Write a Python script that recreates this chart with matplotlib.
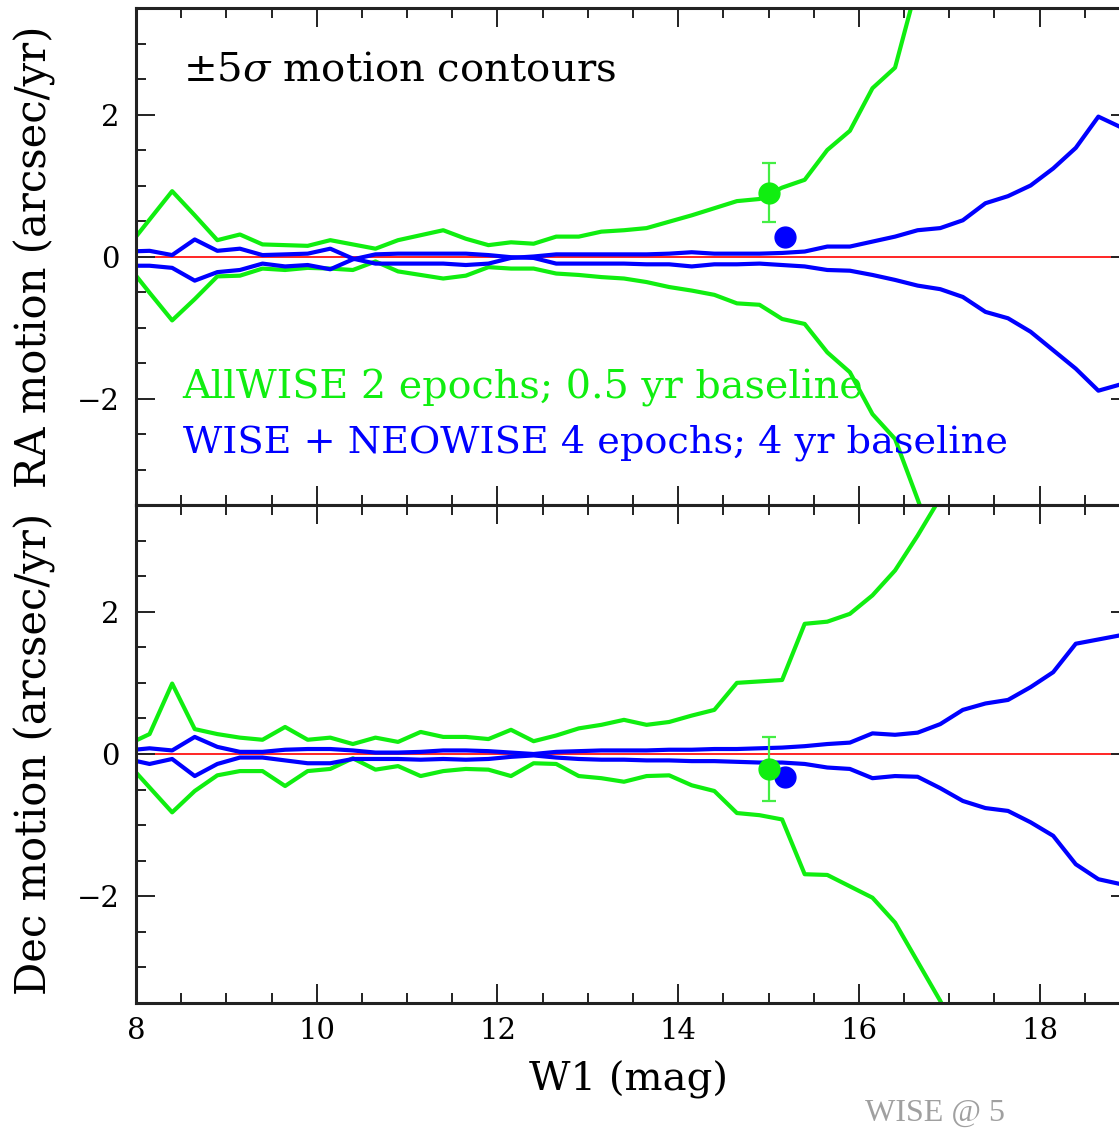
import numpy as np
import matplotlib
matplotlib.use("Agg")
import matplotlib.pyplot as plt
from matplotlib.ticker import MultipleLocator

# W1 bin centres (mag)
w1 = [7.9, 8.15, 8.4, 8.65, 8.9, 9.15, 9.4, 9.65, 9.9, 10.15,
      10.4, 10.65, 10.9, 11.15, 11.4, 11.65, 11.9, 12.15, 12.4, 12.65,
      12.9, 13.15, 13.4, 13.65, 13.9, 14.15, 14.4, 14.65, 14.9, 15.15,
      15.4, 15.65, 15.9, 16.15, 16.4, 16.65, 16.9, 17.15, 17.4, 17.65,
      17.9, 18.15, 18.4, 18.65, 18.9]

# RA motion, +/-5 sigma contours (arcsec/yr)
ra_allwise_hi = [0.12, 0.52, 0.92, 0.58, 0.23, 0.31, 0.17, 0.16, 0.15, 0.23,
                 0.17, 0.11, 0.23, 0.30, 0.37, 0.25, 0.16, 0.20, 0.18, 0.28,
                 0.28, 0.35, 0.37, 0.40, 0.49, 0.58, 0.68, 0.78, 0.81, 0.97,
                 1.08, 1.50, 1.77, 2.37, 2.66, 3.85, 4.60]
ra_allwise_lo = [-0.11, -0.51, -0.90, -0.60, -0.28, -0.27, -0.17, -0.19, -0.16, -0.17,
                 -0.19, -0.07, -0.21, -0.26, -0.31, -0.27, -0.15, -0.17, -0.17, -0.24,
                 -0.26, -0.29, -0.31, -0.36, -0.43, -0.48, -0.54, -0.66, -0.68, -0.88,
                 -0.95, -1.35, -1.63, -2.22, -2.57, -3.42, -4.30]
ra_neowise_a = [0.07, 0.08, 0.02, 0.24, 0.08, 0.11, 0.02, 0.03, 0.04, 0.11,
                -0.03, -0.10, -0.10, -0.10, -0.10, -0.12, -0.10, -0.02, 0.00, 0.03,
                0.03, 0.03, 0.03, 0.03, 0.04, 0.06, 0.04, 0.04, 0.04, 0.05,
                0.07, 0.14, 0.14, 0.21, 0.28, 0.37, 0.40, 0.51, 0.75, 0.85,
                1.00, 1.24, 1.53, 1.97, 1.82]
ra_neowise_b = [-0.13, -0.13, -0.16, -0.34, -0.22, -0.19, -0.10, -0.14, -0.12, -0.18,
                -0.04, 0.03, 0.04, 0.04, 0.04, 0.04, 0.02, -0.01, -0.02, -0.10,
                -0.10, -0.10, -0.10, -0.11, -0.11, -0.14, -0.11, -0.11, -0.10, -0.12,
                -0.14, -0.19, -0.20, -0.26, -0.33, -0.41, -0.46, -0.57, -0.78, -0.87,
                -1.06, -1.32, -1.58, -1.89, -1.80]

# Dec motion, +/-5 sigma contours (arcsec/yr)
dec_allwise_hi = [0.13, 0.28, 0.99, 0.35, 0.28, 0.23, 0.20, 0.38, 0.20, 0.23,
                  0.14, 0.23, 0.17, 0.31, 0.24, 0.24, 0.21, 0.34, 0.18, 0.26,
                  0.36, 0.41, 0.48, 0.41, 0.45, 0.54, 0.62, 1.00, 1.02, 1.04,
                  1.83, 1.86, 1.97, 2.23, 2.58, 3.07, 3.60, 4.30]
dec_allwise_lo = [-0.12, -0.47, -0.82, -0.52, -0.30, -0.24, -0.24, -0.45, -0.24, -0.21,
                  -0.06, -0.22, -0.17, -0.31, -0.24, -0.21, -0.22, -0.31, -0.13, -0.14,
                  -0.31, -0.34, -0.39, -0.31, -0.30, -0.44, -0.52, -0.83, -0.86, -0.92,
                  -1.69, -1.70, -1.86, -2.02, -2.37, -2.92, -3.47, -4.10]
dec_neowise_a = [0.05, 0.08, 0.05, 0.24, 0.10, 0.03, 0.03, 0.06, 0.07, 0.07,
                 0.05, 0.02, 0.02, 0.03, 0.05, 0.05, 0.04, 0.02, 0.00, 0.03,
                 0.04, 0.05, 0.05, 0.05, 0.06, 0.06, 0.07, 0.07, 0.08, 0.09,
                 0.11, 0.14, 0.16, 0.29, 0.27, 0.30, 0.42, 0.62, 0.71, 0.76,
                 0.94, 1.15, 1.55, 1.61, 1.67]
dec_neowise_b = [-0.07, -0.14, -0.07, -0.31, -0.14, -0.05, -0.05, -0.09, -0.13, -0.13,
                 -0.07, -0.07, -0.07, -0.08, -0.07, -0.08, -0.07, -0.04, -0.02, -0.05,
                 -0.07, -0.08, -0.08, -0.09, -0.09, -0.10, -0.10, -0.11, -0.12, -0.12,
                 -0.14, -0.19, -0.21, -0.34, -0.31, -0.32, -0.48, -0.66, -0.76, -0.80,
                 -0.96, -1.15, -1.55, -1.76, -1.83]

# measured motion of the source: W1, RA, RA err, Dec, Dec err
allwise_pt = [15.0, 0.90, 0.41, -0.21, 0.45]
neowise_pt = [15.18, 0.27, 0.0, -0.32, 0.0]

GREEN = "#10ee10"
BLUE = "#0000ff"
SERIF = "DejaVu Serif"

plt.rcParams["font.family"] = SERIF
plt.rcParams["mathtext.fontset"] = "dejavuserif"

fig = plt.figure(figsize=(11.19, 11.31), dpi=100)
left, width = 136 / 1119, 994 / 1119
ax_ra = fig.add_axes([left, 1 - 505 / 1131, width, 497 / 1131])
ax_dec = fig.add_axes([left, 1 - 1003 / 1131, width, 498 / 1131])

panels = [
    (ax_ra, ra_allwise_hi, ra_allwise_lo, ra_neowise_a, ra_neowise_b, 1, "RA motion (arcsec/yr)"),
    (ax_dec, dec_allwise_hi, dec_allwise_lo, dec_neowise_a, dec_neowise_b, 3, "Dec motion (arcsec/yr)"),
]

for ax, aw_hi, aw_lo, neo_a, neo_b, col, ylabel in panels:
    ax.axhline(0, color="red", lw=1.2, zorder=1)
    ax.plot(w1[:len(aw_hi)], aw_hi, color=GREEN, lw=3, zorder=2)
    ax.plot(w1[:len(aw_lo)], aw_lo, color=GREEN, lw=3, zorder=2)
    ax.plot(w1[:len(neo_a)], neo_a, color=BLUE, lw=3, zorder=2)
    ax.plot(w1[:len(neo_b)], neo_b, color=BLUE, lw=3, zorder=2)

    ax.errorbar(allwise_pt[0], allwise_pt[col], yerr=allwise_pt[col + 1],
                fmt="o", ms=15, color=GREEN, ecolor="#44ee44", elinewidth=1.6,
                capsize=5, capthick=1.6, zorder=4)
    ax.plot(neowise_pt[0], neowise_pt[col], "o", ms=15, color=BLUE, zorder=4)

    ax.set_xlim(8, 19)
    ax.set_ylim(-3.5, 3.5)
    ax.xaxis.set_major_locator(MultipleLocator(2))
    ax.xaxis.set_minor_locator(MultipleLocator(0.5))
    ax.yaxis.set_major_locator(MultipleLocator(2))
    ax.yaxis.set_minor_locator(MultipleLocator(0.5))
    ax.tick_params(which="both", direction="in", top=True, right=True,
                   width=1.4, color="#222222", labelsize=21)
    ax.tick_params(which="major", length=14)
    ax.tick_params(which="minor", length=7.5)
    ax.tick_params(axis="y", pad=12)
    ax.tick_params(axis="x", pad=10)
    for sp in ax.spines.values():
        sp.set_linewidth(2.2)
        sp.set_color("#222222")

    ax.set_ylabel(ylabel, fontsize=30, va="center")
    ax.yaxis.set_label_coords(-0.102, 0.5)

ax_ra.tick_params(labelbottom=False)
ax_dec.set_xlabel("W1 (mag)", fontsize=29, va="center")
ax_dec.xaxis.set_label_coords(0.495, -0.155)

ax_ra.text(0.047, 0.875, r"$\pm5\sigma$ motion contours", transform=ax_ra.transAxes,
           fontsize=29, ha="left", va="center", color="black")
ax_ra.text(0.047, 0.235, "AllWISE 2 epochs; 0.5 yr baseline", transform=ax_ra.transAxes,
           fontsize=28.5, ha="left", va="center", color=GREEN)
ax_ra.text(0.047, 0.125, "WISE + NEOWISE 4 epochs; 4 yr baseline", transform=ax_ra.transAxes,
           fontsize=27.5, ha="left", va="center", color=BLUE)

fig.text(865 / 1119, 1 - 1113 / 1131, "WISE @ 5", fontsize=23, ha="left", va="center",
         color="#a0a0a0", family="Liberation Serif")

fig.savefig("out.png", dpi=100, facecolor="white")
